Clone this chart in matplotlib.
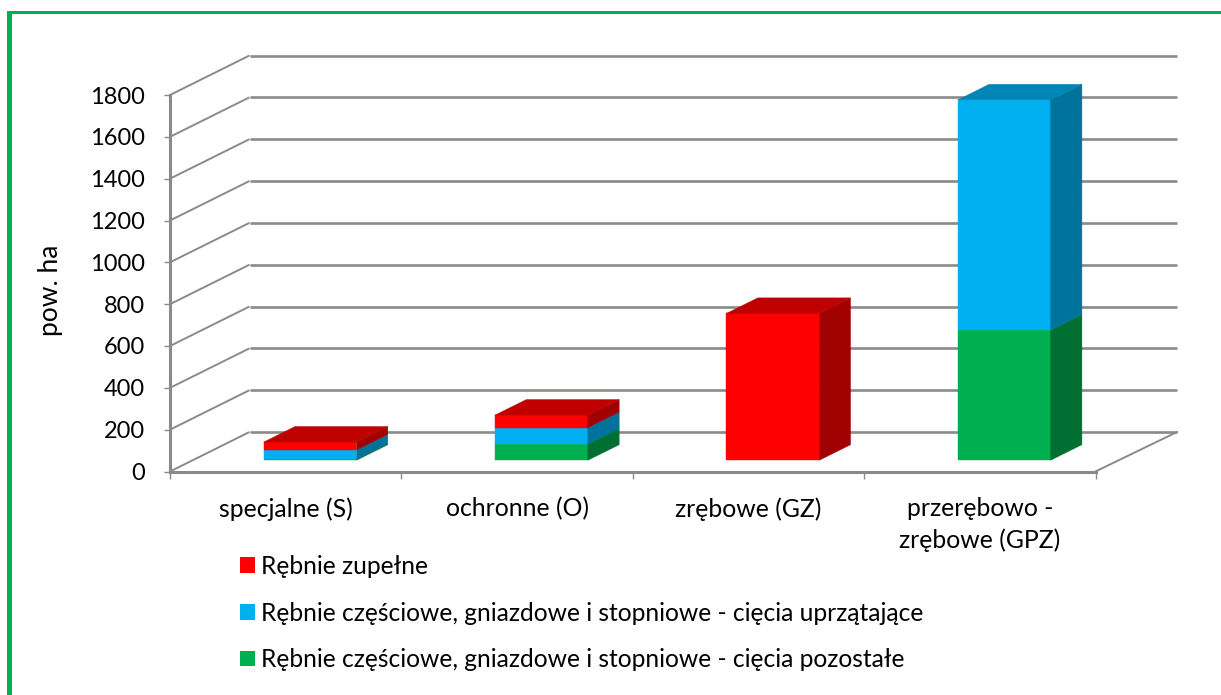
import matplotlib
matplotlib.use("Agg")
import matplotlib.pyplot as plt
from matplotlib.patches import Patch, Rectangle
from matplotlib.transforms import IdentityTransform

# ---- data -------------------------------------------------------------
categories = ["specjalne (S)", "ochronne (O)", "zrębowe (GZ)", "przerębowo -\nzrębowe (GPZ)"]
series_names = ["Rębnie zupełne",
                "Rębnie częściowe, gniazdowe i stopniowe - cięcia uprzątające",
                "Rębnie częściowe, gniazdowe i stopniowe - cięcia pozostałe"]
pozostale = [5, 78, 0, 623]
uprzatajace = [44, 78, 0, 1100]
zupelne = [38, 60, 702, 0]
y_ticks = [0, 200, 400, 600, 800, 1000, 1200, 1400, 1600, 1800]
y_label = "pow. ha"

# ---- style ------------------------------------------------------------
W, H = 1221, 695
plt.rcParams["font.family"] = ["Lato", "DejaVu Sans"]
FS_TICK = 17
FS_CAT = 17.8
FS_LEG = 17.7
FS_YLAB = 19
GRAY = "#8A8A8A"
GREEN_FRAME = "#00B050"
# front, side, top colours
C_RED = ("#FF0000", "#A00000", "#C00000")
C_BLUE = ("#00B0F0", "#00739D", "#0085B5")
C_GREEN = ("#00B050", "#006F32", "#00853C")

fig = plt.figure(figsize=(W / 100, H / 100), dpi=100, facecolor="white")
L, R, T, B = 170, 1095.5, 95, 471.5
ax = fig.add_axes([L / W, (H - B) / H, (R - L) / W, (B - T) / H])
ax.set_xlim(0, len(categories))
ax.set_ylim(0, 1800)
ax.patch.set_visible(False)

# depth vector of the 3D box in data units (one unit of depth = the whole floor)
PX_PER_CAT = (R - L) / len(categories)
DX = 79.5 / PX_PER_CAT
DY = 39.5 / ((B - T) / 1800)
EXTRA_RIGHT = 2 / PX_PER_CAT


def proj(cat, val, depth):
    return cat + depth * DX, val + depth * DY


# ---- back wall, side wall gridlines ------------------------------------
END = len(categories) + EXTRA_RIGHT
for v in y_ticks:
    x0, y0 = proj(0, v, 0)
    x1, y1 = proj(0, v, 1)
    x2, y2 = proj(END, v, 1)
    ax.plot([x0, x1], [y0, y1], color=GRAY, lw=1.4, clip_on=False, zorder=1,
            solid_capstyle="butt")
    ax.plot([x1, x2], [y1, y2], color=GRAY, lw=1.9, clip_on=False, zorder=1,
            solid_capstyle="butt")
x0, y0 = proj(len(categories), 0, 0)
x1, y1 = proj(END, 0, 1)
ax.plot([x0, x1], [y0, y1], color=GRAY, lw=1.4, clip_on=False, zorder=1)

# ---- stacked 3D bars ---------------------------------------------------
BAR_W = 92.8 / PX_PER_CAT
D0, D1 = 0.284, 0.678
X_SHIFT = 0.5 - BAR_W / 2 + 1.8 / PX_PER_CAT


def face(points, color):
    xs = [p[0] for p in points]
    ys = [p[1] for p in points]
    ax.fill(xs, ys, color=color, lw=0.3, clip_on=False, zorder=3)


for i in range(len(categories)):
    base = 0
    stack = [(pozostale[i], C_GREEN), (uprzatajace[i], C_BLUE), (zupelne[i], C_RED)]
    left = i + X_SHIFT
    right = left + BAR_W
    top_col = None
    for val, col in stack:
        if val <= 0:
            continue
        top = base + val
        face([proj(left, base, D0), proj(right, base, D0),
              proj(right, top, D0), proj(left, top, D0)], col[0])
        face([proj(right, base, D0), proj(right, base, D1),
              proj(right, top, D1), proj(right, top, D0)], col[1])
        base = top
        top_col = col
    face([proj(left, base, D0), proj(right, base, D0),
          proj(right, base, D1), proj(left, base, D1)], top_col[2])

# ---- axes --------------------------------------------------------------
for s in ("top", "right"):
    ax.spines[s].set_visible(False)
for s in ("left", "bottom"):
    ax.spines[s].set_color(GRAY)
    ax.spines[s].set_linewidth(2.2)
    ax.spines[s].set_zorder(2)

ax.set_yticks(y_ticks)
ax.set_yticklabels([str(v) for v in y_ticks], fontsize=FS_TICK, color="black")
ax.tick_params(axis="y", length=4, width=1.0, color=GRAY, pad=14)
ax.set_xticks(range(len(categories) + 1))
ax.set_xticklabels([])
ax.tick_params(axis="x", which="major", length=5, width=1.0, color=GRAY)
ax.set_xticks([i + 0.5 for i in range(len(categories))], minor=True)
ax.set_xticklabels(categories, minor=True, fontsize=FS_CAT, linespacing=1.42, color="black")
ax.tick_params(axis="x", which="minor", length=0, pad=18.3)

ax.set_ylabel(y_label, fontsize=FS_YLAB, labelpad=0)
ax.yaxis.set_label_coords(63 / W, (H - 290) / H, transform=fig.transFigure)

# ---- legend ------------------------------------------------------------
handles = [Patch(facecolor=C_RED[0]), Patch(facecolor=C_BLUE[0]), Patch(facecolor=C_GREEN[0])]
fig.legend(handles, series_names, loc="upper left",
           bbox_to_anchor=(240 / W, (H - 555) / H), frameon=False, fontsize=FS_LEG,
           handlelength=0.61, handleheight=0.61, handletextpad=0.25,
           labelspacing=0.96, borderpad=0, borderaxespad=0)

# ---- green frame (left and top only) ----------------------------------
for x, y, w, h in [(7, 0, 5, H - 11), (7, H - 14, W - 7, 3)]:
    fig.add_artist(Rectangle((x, y), w, h, transform=IdentityTransform(),
                             facecolor=GREEN_FRAME, edgecolor="none"))

fig.savefig("out.png", dpi=100, facecolor="white")
